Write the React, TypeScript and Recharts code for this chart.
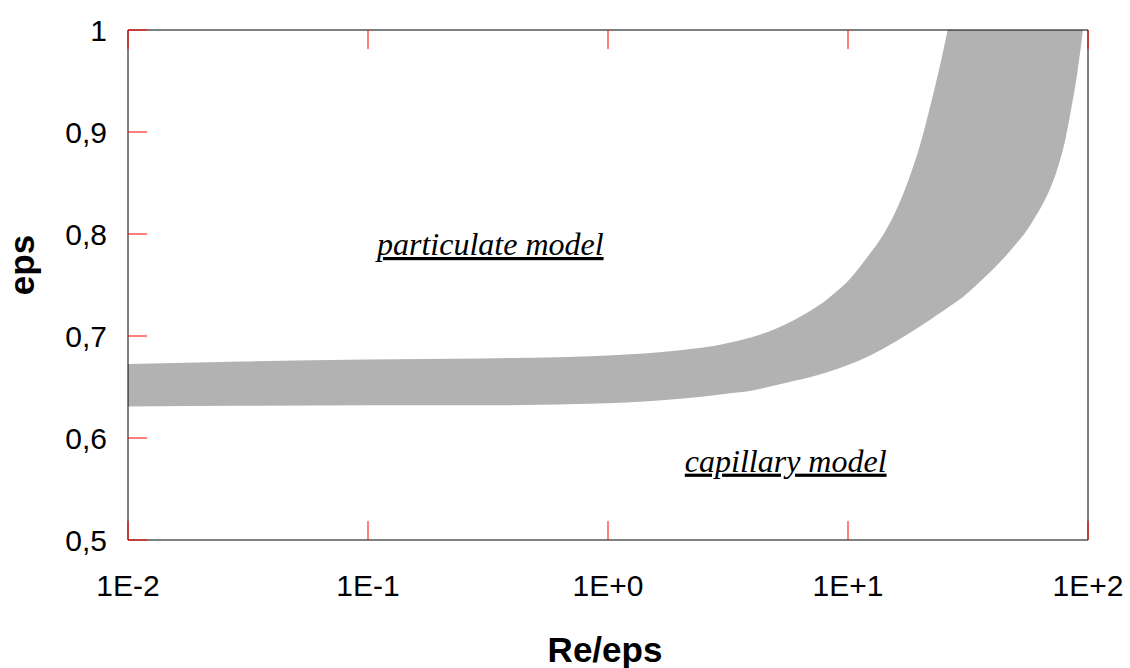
import React from 'react';
import { ComposedChart, Area, XAxis, YAxis, ReferenceDot } from 'recharts';

// Re/eps sample points (log axis) and the two bounds of the grey transition band
const reValues = [0.01, 0.03, 0.1, 0.3, 1, 2, 3, 4, 5, 6, 7, 8, 9, 10, 12, 14, 16, 18, 20, 22, 24, 26, 30, 35, 40, 45, 50, 55, 60, 65, 70, 75, 80, 85, 90, 95, 100];
const epsUpper = [0.6725, 0.675, 0.677, 0.678, 0.681, 0.686, 0.692, 0.699, 0.707, 0.716, 0.725, 0.734, 0.744, 0.754, 0.777, 0.799, 0.825, 0.855, 0.888, 0.925, 0.962, 1.0, 1.08, 1.0, 1.0, 1.0, 1.0, 1.0, 1.0, 1.0, 1.0, 1.0, 1.0, 1.0, 1.0, 1.0, 1.0];
const epsLower = [0.631, 0.6315, 0.632, 0.632, 0.634, 0.6385, 0.643, 0.6466, 0.6516, 0.6562, 0.6598, 0.6637, 0.6676, 0.6716, 0.6795, 0.6875, 0.6953, 0.7027, 0.7095, 0.716, 0.722, 0.7277, 0.738, 0.752, 0.765, 0.7775, 0.79, 0.802, 0.816, 0.83, 0.846, 0.866, 0.89, 0.922, 0.956, 0.998, 1.048];

const xTicks = [0.01, 0.1, 1, 10, 100];
const xTickLabels = ['1E-2', '1E-1', '1E+0', '1E+1', '1E+2'];
const yTicks = [0.5, 0.6, 0.7, 0.8, 0.9, 1];
const yTickLabels = ['0,5', '0,6', '0,7', '0,8', '0,9', '1'];

const data = reValues.map((re, i) => ({ re, band: [epsLower[i], epsUpper[i]] }));

const TICK_LEN = 19;
const TICK_COLOR = '#ff0000';
const sans = '"Liberation Sans", Arial, sans-serif';
const serif = '"Liberation Serif", "Times New Roman", serif';

const LeftTick = ({ x, y, payload }: any) => (
  <g>
    <line x1={x} y1={y} x2={x + TICK_LEN} y2={y} stroke={TICK_COLOR} />
    <text x={x - 21} y={y} dy="0.35em" textAnchor="end" fontFamily={sans} fontSize={30} fill="#000">
      {yTickLabels[yTicks.indexOf(payload.value)]}
    </text>
  </g>
);

const RightTick = ({ x, y }: any) => (
  <line x1={x - TICK_LEN} y1={y} x2={x} y2={y} stroke={TICK_COLOR} />
);

const BottomTick = ({ x, y, payload }: any) => (
  <g>
    <line x1={x} y1={y} x2={x} y2={y - TICK_LEN} stroke={TICK_COLOR} />
    <text x={x} y={y + 56} textAnchor="middle" fontFamily={sans} fontSize={30} fill="#000">
      {xTickLabels[xTicks.indexOf(payload.value)]}
    </text>
  </g>
);

const TopTick = ({ x, y }: any) => (
  <line x1={x} y1={y} x2={x} y2={y + TICK_LEN} stroke={TICK_COLOR} />
);

const note = (text: string) => (props: any) => {
  const vb = props.viewBox;
  return (
    <text
      x={vb.x + vb.width / 2}
      y={vb.y + vb.height / 2}
      fontFamily={serif}
      fontStyle="italic"
      fontSize={32}
      textDecoration="underline"
      fill="#000"
    >
      {text}
    </text>
  );
};

const App: React.FC = () => {
  return (
    <div style={{ position: 'absolute', left: 0, top: 0, background: '#fff' }}>
      <ComposedChart width={1130} height={668} data={data} margin={{ top: 20, right: 32, bottom: 48, left: 48 }}>
        <Area
          dataKey="band"
          type="monotone"
          stroke="none"
          fill="#b2b2b2"
          fillOpacity={1}
          isAnimationActive={false}
        />
        <XAxis
          dataKey="re"
          type="number"
          scale="log"
          domain={[0.01, 100]}
          ticks={xTicks}
          allowDataOverflow
          height={80}
          tickSize={0}
          tickMargin={0}
          tickLine={false}
          axisLine={{ stroke: '#000' }}
          tick={<BottomTick />}
          interval={0}
          label={(p: any) => (
            <text
              x={p.viewBox.x + p.viewBox.width / 2 - 3}
              y={p.viewBox.y + 122}
              textAnchor="middle"
              fontFamily={sans}
              fontWeight="bold"
              fontSize={35}
              fill="#000"
            >
              Re/eps
            </text>
          )}
        />
        <XAxis
          xAxisId="top"
          orientation="top"
          dataKey="re"
          type="number"
          scale="log"
          domain={[0.01, 100]}
          ticks={xTicks}
          height={10}
          tickSize={0}
          tickMargin={0}
          tickLine={false}
          axisLine={{ stroke: '#000' }}
          tick={<TopTick />}
          interval={0}
        />
        <YAxis
          type="number"
          domain={[0.5, 1]}
          ticks={yTicks}
          allowDataOverflow
          width={80}
          tickSize={0}
          tickMargin={0}
          tickLine={false}
          axisLine={{ stroke: '#000' }}
          tick={<LeftTick />}
          interval={0}
          label={(p: any) => {
            const cy = p.viewBox.y + p.viewBox.height / 2 - 20;
            return (
              <text
                x={34}
                y={cy}
                transform={`rotate(-90, 34, ${cy})`}
                textAnchor="middle"
                fontFamily={sans}
                fontWeight="bold"
                fontSize={35}
                fill="#000"
              >
                eps
              </text>
            );
          }}
        />
        <YAxis
          yAxisId="right"
          orientation="right"
          type="number"
          domain={[0.5, 1]}
          ticks={yTicks}
          width={10}
          tickSize={0}
          tickMargin={0}
          tickLine={false}
          axisLine={{ stroke: '#000' }}
          tick={<RightTick />}
          interval={0}
        />
        <ReferenceDot x={0.109} y={0.7794} r={1} fill="none" stroke="none" label={note('particulate model')} />
        <ReferenceDot x={2.09} y={0.567} r={1} fill="none" stroke="none" label={note('capillary model')} />
      </ComposedChart>
    </div>
  );
};

export default App;
